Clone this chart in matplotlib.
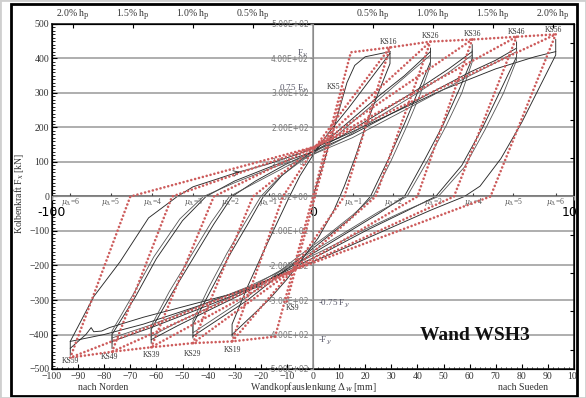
import matplotlib
matplotlib.use("Agg")
import matplotlib.pyplot as plt
from matplotlib.patches import Rectangle
from matplotlib.ticker import MultipleLocator, FixedLocator, FuncFormatter

plt.rcParams['mathtext.fontset'] = 'dejavuserif'
SERIF = ['Liberation Serif', 'DejaVu Serif']

# ---------------- data ----------------
# measured hysteresis branches (black), displacement [mm] / force [kN]
U1x = [-31, -31, -25, -19, -14, -9, -5, 0, 6, 14, 22, 29.5]
U1y = [-405, -370, -260, -160, -80, 0, 60, 120, 185, 260, 340, 415]
D1x = [29.5, 29.5, 25, 20, 16, 12, 8, 2, -5, -10, -17, -24, -31]
D1y = [420, 385, 300, 200, 110, 30, -40, -120, -190, -240, -300, -350, -400]
U2x = [-46, -46, -39, -32, -25, -19, -12, -4, 5, 15, 25, 35, 45]
U2y = [-410, -370, -270, -170, -80, 0, 60, 110, 160, 225, 290, 350, 420]
D2x = [45, 45, 40, 35, 29, 22, 15, 5, -5, -15, -25, -35, -46]
D2y = [430, 390, 300, 210, 110, 0, -60, -120, -180, -240, -300, -350, -405]
U3x = [-62, -62, -54, -46, -38, -31, -22, -10, 0, 12, 25, 40, 52, 61]
U3y = [-425, -385, -280, -180, -80, 0, 45, 95, 130, 180, 240, 310, 370, 420]
D3x = [61, 61, 56, 50, 43, 35, 25, 12, 0, -12, -25, -40, -52, -62]
D3y = [440, 400, 310, 210, 110, 0, -50, -110, -165, -220, -275, -330, -375, -415]
U4x = [-77, -77, -68, -60, -50, -41, -30, -15, 0, 15, 30, 45, 60, 70, 78]
U4y = [-440, -400, -290, -180, -70, 0, 45, 90, 130, 180, 240, 300, 360, 395, 430]
D4x = [78, 78, 72, 65, 57, 47, 35, 20, 5, -10, -25, -45, -62, -77]
D4y = [448, 405, 310, 200, 90, 0, -45, -100, -160, -215, -270, -330, -380, -420]
U5x = [-93, -93, -84, -74, -63, -52, -46, -37, -29, -18, -5, 10, 30, 50, 70, 85, 93]
U5y = [-460, -420, -290, -190, -62, 0, 28, 50, 70, 92, 125, 170, 240, 310, 370, 405, 420]
D5x = [93, 93, 87, 80, 72, 64, 58, 45, 30, 12, -5, -25, -45, -65, -80, -93]
D5y = [455, 410, 320, 215, 110, 30, 0, -40, -90, -150, -205, -265, -320, -370, -400, -420]
# second cycles
U2bx = [-46, -46, -40, -33, -26, -20, -13, -5, 5, 15, 25, 35, 45]
U2by = [-395, -360, -265, -165, -75, 0, 55, 100, 150, 215, 280, 345, 410]
D2bx = [45, 45, 41, 36, 30, 23, 15, 5, -5, -15, -25, -35, -46]
D2by = [415, 380, 295, 205, 105, 0, -55, -115, -170, -230, -290, -340, -395]
U3bx = [-62, -62, -55, -47, -39, -32, -22, -10, 0, 12, 25, 40, 52, 61]
U3by = [-410, -375, -275, -175, -75, 0, 40, 88, 122, 170, 230, 300, 360, 410]
D3bx = [61, 61, 57, 51, 44, 36, 25, 12, 0, -12, -25, -40, -52, -62]
D3by = [425, 390, 300, 205, 105, 0, -45, -105, -158, -212, -268, -322, -365, -405]
U4bx = [-77, -77, -69, -61, -51, -42, -30, -15, 0, 15, 30, 45, 60, 70, 78]
U4by = [-425, -390, -285, -175, -65, 0, 40, 85, 122, 170, 230, 290, 350, 388, 420]
D4bx = [78, 78, 73, 66, 58, 48, 35, 20, 5, -10, -25, -45, -62, -77]
D4by = [435, 395, 300, 195, 85, 0, -42, -95, -152, -208, -262, -322, -372, -410]
V0x = [0, 5, 10, 13, 16, 20, 29.5]
V0y = [0, 120, 250, 330, 380, 405, 420]
K5x = [-93, -87, -85, -84, -81, -78, -65, -50, -35, -20]
K5y = [-440, -400, -380, -392, -390, -380, -350, -320, -290, -260]

# model (red dotted)
env_x = [-14.5, 0, 14.5, 29.5, 45, 61, 78, 93]
env_y = [-406, 0, 418, 432, 449, 455, 463, 470]
envn_x = [-14.5, -31, -46, -62, -77, -93]
envn_y = [-406, -420, -425, -437, -450, -467]
ks9_ks5_x = [-10, 12]
ks9_ks5_y = [-304, 318]
peak_pos_x = [29.5, 45, 61, 78, 93]
peak_pos_y = [432, 449, 455, 463, 470]
peak_neg_x = [-31, -46, -62, -77, -93]
peak_neg_y = [-420, -425, -437, -450, -467]
cross_pos = [12, 24, 40, 54, 68]
cross_neg = [-11.5, -23, -38, -54, -70]
pinch_pos = [1, 145]
pinch_neg = [-8, -215]

ks_names = ['KS5', 'KS16', 'KS26', 'KS36', 'KS46', 'KS56',
            'KS9', 'KS19', 'KS29', 'KS39', 'KS49', 'KS59']
ks_lab_x = [8, 29, 45, 61, 78, 92, -8, -31, -46, -62, -78, -93]
ks_lab_y = [318, 447, 464, 472, 478, 484, -322, -446, -456, -460, -465, -476]

hp_pct = [-2.0, -1.5, -1.0, -0.5, 0.5, 1.0, 1.5, 2.0]
hp_x = [-92, -69, -46, -23, 23, 46, 69, 92]
mu_vals = [6, 5, 4, 3, 2, 1, 1, 2, 3, 4, 5, 6]
mu_x = [-93, -77.5, -61.5, -46, -31.5, -17, 15.4, 30.7, 46, 61.4, 76.8, 93]

fy_labels = [r'F$_y$', r'0.75 F$_y$', r'-0.75 F$_y$', r'-F$_y$']
fy_x = [-2, -2, 2, 2]
fy_y = [412, 312, -310, -418]
fy_ha = ['right', 'right', 'left', 'left']

# ---------------- figure ----------------
W, H = 586, 398
fig = plt.figure(figsize=(W / 100, H / 100), dpi=100)
fig.patch.set_facecolor('white')
L, R, T, B = 52, 574, 24, 369
rect = [L / W, 1 - B / H, (R - L) / W, (B - T) / H]

ax = fig.add_axes(rect)
ax.set_xlim(-100, 100)
ax.set_ylim(-500, 500)
for s in ax.spines.values():
    s.set_linewidth(1.2)
    s.set_color('#222222')
for yv in [-400, -300, -200, -100, 100, 200, 300, 400]:
    ax.axhline(yv, color='#a8a8a8', lw=1.3, zorder=1)
ax.axhline(0, color='#707070', lw=1.3, zorder=1)
ax.axvline(0, color='#a8a8a8', lw=1.3, zorder=1)

ax.xaxis.set_major_locator(MultipleLocator(10))
ax.xaxis.set_minor_locator(MultipleLocator(2))
ax.yaxis.set_major_locator(MultipleLocator(100))
ax.yaxis.set_minor_locator(MultipleLocator(10))
ax.tick_params(axis='both', which='major', direction='in', length=3.5, width=0.8,
               labelsize=7, labelcolor='#333333', pad=2)
ax.tick_params(axis='both', which='minor', direction='in', length=1.8, width=0.6)
for lab in ax.get_xticklabels() + ax.get_yticklabels():
    lab.set_family(SERIF)

# black measured curves
black_sets = [(U1x, U1y), (D1x, D1y), (U2x, U2y), (D2x, D2y), (U3x, U3y), (D3x, D3y),
              (U4x, U4y), (D4x, D4y), (U5x, U5y), (D5x, D5y), (V0x, V0y), (K5x, K5y)]
for bx, by in black_sets:
    ax.plot(bx, by, color='#2a2a2a', lw=0.65, zorder=2)
for bx, by in [(U2bx, U2by), (D2bx, D2by), (U3bx, U3by), (D3bx, D3by), (U4bx, U4by), (D4bx, D4by)]:
    ax.plot(bx, by, color='#555555', lw=0.6, zorder=2)
ax.annotate('', xy=(-27, 73), xytext=(-31, 66),
            arrowprops=dict(arrowstyle='->', color='#2a2a2a', lw=0.6), zorder=2)

# mu ticks + labels
ax.vlines(mu_x, 0, 10, color='#444444', lw=0.8, zorder=2)
for mv, mx in zip(mu_vals, mu_x):
    ax.text(mx, -17, r'$\mu_\Delta$=%d' % mv, ha='center', va='center', fontsize=5.5,
            color='#555555', family=SERIF, zorder=3)

# right ticks
axr = ax.twinx()
axr.set_ylim(-4.5, 4.5)
axr.set_yticks([-4, -3, -2, -1, 1, 2, 3, 4])
axr.set_yticklabels([])
axr.tick_params(direction='in', length=3, width=0.8)

# top ticks (% h_p)
axt = ax.twiny()
axt.set_xlim(-100, 100)
axt.set_xticks(hp_x)
axt.set_xticklabels(['%.1f%% h$_\\mathrm{p}$' % abs(p) for p in hp_pct], fontsize=7,
                    family=SERIF, color='#333333')
axt.tick_params(direction='in', length=3, width=0.8, pad=1)

# KS labels
for name, lx, ly in zip(ks_names, ks_lab_x, ks_lab_y):
    ax.text(lx, ly, name, ha='center', va='center', fontsize=5.5, color='#333333',
            family=SERIF, zorder=4)

for lab, fx, fyv, ha in zip(fy_labels, fy_x, fy_y, fy_ha):
    ax.text(fx, fyv, lab, ha=ha, va='center', fontsize=6.5, color='#555566',
            family=SERIF, zorder=4)

ax.text(62, -403, 'Wand WSH3', ha='center', va='center', fontsize=14,
        fontweight='bold', family=SERIF, color='#111111', zorder=4)

# ---------------- overlay axes (model) ----------------
ax2 = fig.add_axes(rect, facecolor='none')
ax2.set_zorder(5)
ax2.set_xlim(-100, 100)
ax2.set_ylim(-500, 500)
ax2.spines['left'].set_position(('data', 0))
ax2.spines['bottom'].set_position(('data', 0))
ax2.spines['top'].set_visible(False)
ax2.spines['right'].set_visible(False)
for k in ['left', 'bottom']:
    ax2.spines[k].set_color('#8a8a8a')
    ax2.spines[k].set_linewidth(0.8)
ax2.set_xticks([-100, 0, 100])
ax2.set_xticklabels(['-100', '0', '100'], fontsize=9, color='black')
ax2.yaxis.set_major_locator(FixedLocator(list(range(-500, 501, 100))))
ax2.yaxis.set_major_formatter(FuncFormatter(lambda v, p: '%.2E' % v))
ax2.tick_params(axis='y', labelsize=5.5, labelcolor='#7a7a7a', length=2, pad=1,
                color='#8a8a8a')
ax2.tick_params(axis='x', length=3, pad=4, color='#8a8a8a')

RED = '#cd5c5c'
dot = dict(color=RED, lw=1.9, linestyle=(0, (0.01, 1.5)), dash_capstyle='round', zorder=6)
ax2.plot(env_x, env_y, **dot)
ax2.plot(envn_x, envn_y, **dot)
ax2.plot(ks9_ks5_x, ks9_ks5_y, **dot)
for i in range(len(peak_pos_x)):
    px = [peak_pos_x[i], cross_pos[i], pinch_neg[0], peak_neg_x[i]]
    py = [peak_pos_y[i], 0, pinch_neg[1], peak_neg_y[i]]
    ax2.plot(px, py, **dot)
    nx = [peak_neg_x[i], cross_neg[i], pinch_pos[0], peak_pos_x[i]]
    ny = [peak_neg_y[i], 0, pinch_pos[1], peak_pos_y[i]]
    ax2.plot(nx, ny, **dot)

# ---------------- outer texts & frame ----------------
fig.text(19 / W, 1 - 193 / H, 'Kolbenkraft F$_x$ [kN]', rotation=90, ha='center',
         va='center', fontsize=7, color='#333333', family=SERIF)
fig.text(103 / W, 1 - 387 / H, 'nach Norden', ha='center', va='center', fontsize=7,
         color='#333333', family=SERIF)
fig.text(313 / W, 1 - 387 / H, r'Wandkopfauslenkung $\Delta_w$ [mm]', ha='center',
         va='center', fontsize=7, color='#333333', family=SERIF)
fig.text(523 / W, 1 - 387 / H, 'nach Sueden', ha='center', va='center', fontsize=7,
         color='#333333', family=SERIF)

for (x0, y0, w0, h0) in [(578, 0, 8, 398), (0, 0, 11, 398), (0, 0, 586, 4), (0, 396, 586, 2)]:
    fig.add_artist(Rectangle((x0 / W, 1 - (y0 + h0) / H), w0 / W, h0 / H,
                             transform=fig.transFigure, fc='white', ec='none', zorder=99))
fig.add_artist(Rectangle((11 / W, 1 - 396 / H), (577 - 11) / W, (396 - 4) / H,
                         transform=fig.transFigure, fill=False, ec='black', lw=2, zorder=100))
fig.add_artist(Rectangle((0, 0), 1, 1, transform=fig.transFigure, fill=False,
                         ec='#cfcfcf', lw=2, zorder=101))

fig.savefig('out.png', dpi=100)
